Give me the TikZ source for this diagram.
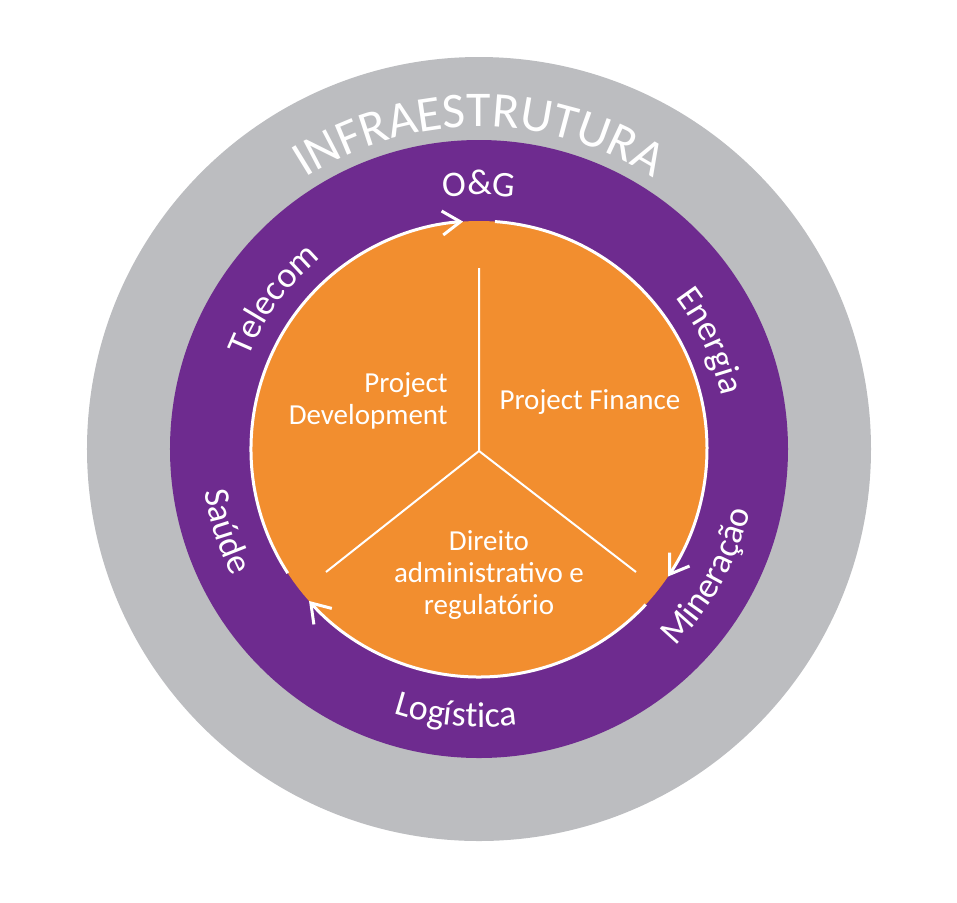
\documentclass[tikz,border=0pt]{standalone}
\usepackage{fontspec}
\setmainfont{Carlito}
\usetikzlibrary{arrows.meta,decorations.text}
\definecolor{ringgrey}{HTML}{BCBDC0}
\definecolor{ringpurple}{HTML}{6E2B8F}
\definecolor{coreorange}{HTML}{F28E2F}
\newcommand{\ringfont}{\fontsize{18}{20}\selectfont}
\newcommand{\bigringfont}{\fontsize{25}{28}\selectfont}
\tikzset{
  rtext/.style={decorate, decoration={text along path, text align=center,
                text color=white, text={#1}}},
  rcycle/.style={draw=white, line width=1.5pt,
                 -{Straight Barb[length=9pt,width=12pt]}},
  rspoke/.style={draw=white, line width=1pt},
  rlabel/.style={text=white, font=\fontsize{14.5}{16}\selectfont, inner sep=0pt},
}

\begin{document}
\begin{tikzpicture}[x=0.5pt,y=0.5pt]
\useasboundingbox (-479,-453) rectangle (478,449);
\fill[ringgrey] (0,0) circle[radius=392];
\fill[ringpurple] (0,0) circle[radius=309];
\fill[coreorange] (0,0) circle[radius=228];
% cycle arrows round the core
\draw[rcycle] (213:228) arc[start angle=213,end angle=94,radius=228];
\draw[rcycle] (86:228) arc[start angle=86,end angle=-34,radius=228];
\draw[rcycle] (-43:228) arc[start angle=-43,end angle=-138.2,radius=228];
% spokes
\coordinate (hub) at (0,-2);
\coordinate (spk-n) at (0,181);
\coordinate (spk-sw) at (-153,-123);
\coordinate (spk-se) at (157,-123);
\draw[rspoke] (spk-n) -- (hub) -- (spk-sw) (hub) -- (spk-se);
% ring texts
\path[rtext={|\bigringfont|INFRAESTRUTURA}] (150:322) arc[start angle=150,end angle=30,radius=322];
\path[rtext={|\ringfont|O{\&}G}] (130:254) arc[start angle=130,end angle=50,radius=254];
\path[rtext={|\ringfont|Telecom}] (184:248) arc[start angle=184,end angle=104,radius=248];
\path[rtext={|\ringfont|Energia}] (65:248) arc[start angle=65,end angle=-15,radius=248];
\path[rtext={|\ringfont|Mineração}] (-69:278) arc[start angle=-69,end angle=11,radius=278];
\path[rtext={|\ringfont|Logística}] (225:278) arc[start angle=225,end angle=305,radius=278];
\path[rtext={|\ringfont|Saúde}] (158:278) arc[start angle=158,end angle=238,radius=278];
% core texts
\node[rlabel,anchor=east,align=right] (pdev) at (-31,48) {Project\\Development};
\node[rlabel] (pfin) at (111,47) {Project Finance};
\node[rlabel,align=center] (dadm) at (10,-126) {Direito\\administrativo e\\regulatório};
\end{tikzpicture}
\end{document}
